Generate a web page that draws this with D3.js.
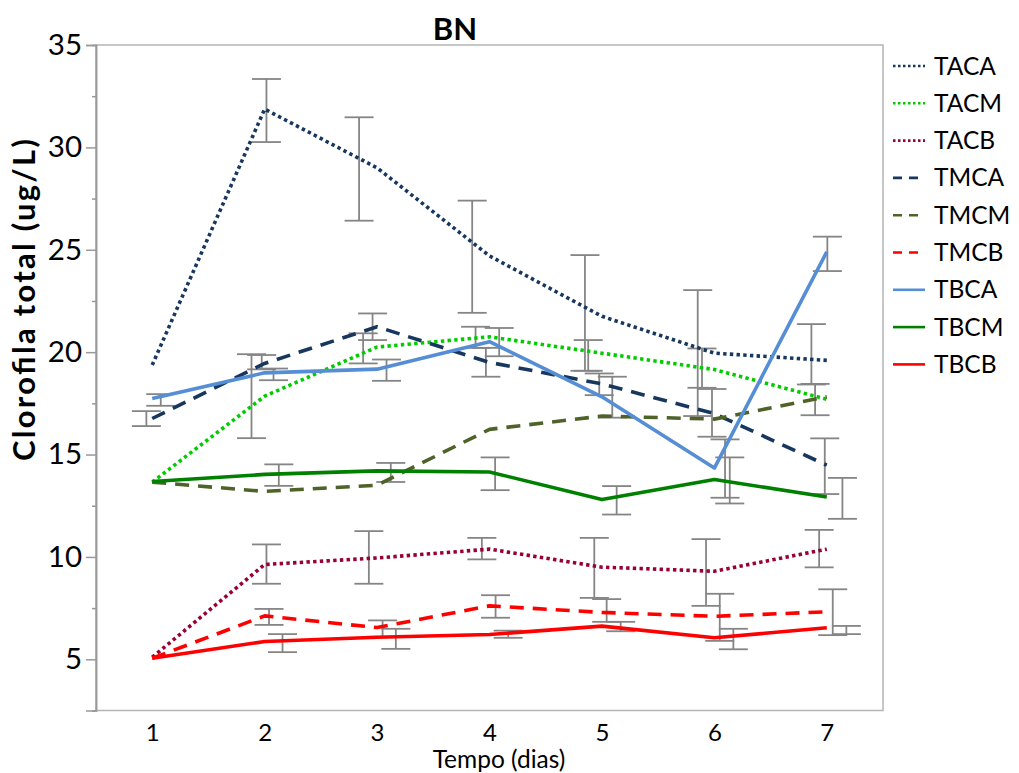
<!DOCTYPE html>
<html lang="en">
<head>
  <meta charset="UTF-8">
  <title>BN - Clorofila total</title>
  <script src="https://cdn.jsdelivr.net/npm/d3@7"></script>
  <style>
    body { margin: 0; background: #fff; }
    svg text { font-family: Lato, "Open Sans", sans-serif; fill: #000; }
  </style>
</head>
<body>
<svg width="1019" height="773"></svg>
<script>
  // days on the x axis
  var days = [1, 2, 3, 4, 5, 6, 7];
  var seriesNames = ["TACA", "TACM", "TACB", "TMCA", "TMCM", "TMCB", "TBCA", "TBCM", "TBCB"];

  // mean values per series (ug/L)
  var TACA = [19.37, 31.87, 29.0, 24.7, 21.75, 19.95, 19.6];
  var TACM = [13.65, 17.85, 20.25, 20.75, 19.95, 19.15, 17.7];
  var TACB = [5.1, 9.63, 9.95, 10.38, 9.5, 9.3, 10.38];
  var TMCA = [16.76, 19.45, 21.24, 19.5, 18.45, 17.0, 14.48];
  var TMCM = [13.65, 13.2, 13.5, 16.23, 16.88, 16.73, 17.82];
  var TMCB = [5.05, 7.12, 6.55, 7.61, 7.29, 7.1, 7.32];
  var TBCA = [17.74, 18.99, 19.17, 20.51, 17.82, 14.34, 24.9];
  var TBCM = [13.68, 14.03, 14.2, 14.15, 12.8, 13.78, 12.93];
  var TBCB = [5.05, 5.87, 6.08, 6.21, 6.62, 6.05, 6.54];

  // error bars: [x position (days), low, high]
  var errTACA = [[2.016, 30.26, 33.34], [2.84, 26.42, 31.47], [3.846, 21.92, 27.4], [4.849, 19.09, 24.74], [5.852, 16.88, 23.03], [6.863, 18.42, 21.37]];
  var errTACM = [[1.883, 15.8, 19.9], [2.876, 19.45, 20.92], [3.876, 20.21, 21.24], [4.878, 19.09, 20.59], [5.89, 18.26, 20.18], [6.896, 16.92, 18.45]];
  var errTACB = [[2.016, 8.69, 10.61], [2.927, 8.69, 11.26], [3.932, 9.88, 10.93], [4.932, 8.0, 10.93], [5.926, 7.61, 10.87], [6.932, 9.49, 11.32]];
  var errTMCA = [[0.948, 16.39, 17.12], [1.974, 19.16, 19.86], [2.96, 20.59, 21.89], [3.968, 18.8, 20.21], [4.976, 17.9, 18.96], [5.979, 15.87, 18.2], [6.982, 13.07, 15.79]];
  var errTMCB = [[2.039, 6.68, 7.46], [3.049, 6.1, 6.9], [4.054, 7.03, 8.13], [5.042, 6.83, 7.94], [6.048, 5.9, 8.2], [7.053, 6.18, 8.42]];
  var errTBCA = [[1.076, 17.38, 17.95], [2.079, 18.63, 19.2], [3.084, 18.6, 19.64], [4.086, 19.8, 21.18], [5.092, 16.8, 18.8], [6.095, 12.89, 15.74], [7.005, 23.96, 25.64]];
  var errTBCM = [[2.126, 13.47, 14.52], [3.122, 13.66, 14.59], [4.05, 13.26, 14.86], [5.131, 12.07, 13.46], [6.137, 12.61, 14.86], [7.139, 11.86, 13.86]];
  var errTBCB = [[2.159, 5.35, 6.23], [3.167, 5.51, 6.49], [4.166, 6.05, 6.4], [5.167, 6.37, 6.83], [6.169, 5.49, 6.49], [7.174, 6.23, 6.63]];

  var majorTicks = [5, 10, 15, 20, 25, 30, 35];
  var minorTicks = [2.5, 7.5, 12.5, 17.5, 22.5, 27.5, 32.5];

  var series = [
    { name: "TACA", values: TACA, err: errTACA, color: "#17375e", dash: "3.4,3.3" },
    { name: "TACM", values: TACM, err: errTACM, color: "#00cc00", dash: "3.4,3.3" },
    { name: "TACB", values: TACB, err: errTACB, color: "#990033", dash: "3.4,3.3" },
    { name: "TMCA", values: TMCA, err: errTMCA, color: "#17375e", dash: "14,9" },
    { name: "TMCM", values: TMCM, err: [], color: "#4f6228", dash: "14,9" },
    { name: "TMCB", values: TMCB, err: errTMCB, color: "#ff0000", dash: "14,9" },
    { name: "TBCA", values: TBCA, err: errTBCA, color: "#558ed5", dash: null },
    { name: "TBCM", values: TBCM, err: errTBCM, color: "#008000", dash: null },
    { name: "TBCB", values: TBCB, err: errTBCB, color: "#ff0000", dash: null }
  ];

  var margin = { top: 45, right: 136, bottom: 62.5, left: 96 };
  var width = 1019 - margin.left - margin.right;
  var height = 773 - margin.top - margin.bottom;

  var x = d3.scaleLinear().domain([0.5, 7.5]).range([0, width]);
  var y = d3.scaleLinear().domain([2.5, 35]).range([height, 0]);

  var svg = d3.select("svg").append("g")
    .attr("transform", "translate(" + margin.left + "," + margin.top + ")");

  // plot border
  svg.append("rect")
    .attr("x", 0).attr("y", 0)
    .attr("width", width).attr("height", height)
    .attr("fill", "none")
    .attr("stroke", "#b4b4b4")
    .attr("stroke-width", 1.5);

  // y axis: minor then major
  var yMinor = svg.append("g")
    .call(d3.axisLeft(y).tickValues(minorTicks).tickSize(4).tickFormat(""));
  var yAxis = svg.append("g")
    .call(d3.axisLeft(y).tickValues(majorTicks).tickSize(10).tickPadding(4));
  [yMinor, yAxis].forEach(function(g) {
    g.selectAll("path, line").attr("stroke", "#999").attr("stroke-width", 1.5);
  });
  yAxis.selectAll("text").style("font-size", "29.5px");

  // x axis labels only
  var xAxis = svg.append("g")
    .attr("transform", "translate(0," + height + ")")
    .call(d3.axisBottom(x).tickValues(days).tickFormat(d3.format("d")).tickSize(0).tickPadding(13));
  xAxis.select(".domain").remove();
  xAxis.selectAll("text").style("font-size", "24px");

  // error bars
  var capW = 14.5;
  series.forEach(function(s) {
    var eb = svg.append("g").attr("stroke", "#858585").attr("stroke-width", 1.8);
    s.err.forEach(function(e) {
      var cx = x(e[0]);
      eb.append("line").attr("x1", cx).attr("x2", cx).attr("y1", y(e[1])).attr("y2", y(e[2]));
      eb.append("line").attr("x1", cx - capW).attr("x2", cx + capW).attr("y1", y(e[1])).attr("y2", y(e[1]));
      eb.append("line").attr("x1", cx - capW).attr("x2", cx + capW).attr("y1", y(e[2])).attr("y2", y(e[2]));
    });
  });

  // lines
  var line = d3.line()
    .x(function(d, i) { return x(days[i]); })
    .y(function(d) { return y(d); });

  series.forEach(function(s) {
    svg.append("path")
      .datum(s.values)
      .attr("fill", "none")
      .attr("stroke", s.color)
      .attr("stroke-width", 3.6)
      .attr("stroke-linejoin", "round")
      .attr("stroke-dasharray", s.dash)
      .attr("d", line);
  });

  // title
  d3.select("svg").append("text")
    .attr("x", 455).attr("y", 40)
    .attr("text-anchor", "middle")
    .style("font-size", "31px")
    .style("font-weight", "bold")
    .text("BN");

  // axis titles
  d3.select("svg").append("text")
    .attr("transform", "translate(35,300) rotate(-90)")
    .attr("text-anchor", "middle")
    .attr("textLength", 322)
    .attr("lengthAdjust", "spacing")
    .style("font-size", "31px")
    .style("font-weight", "bold")
    .text("Clorofila total (ug/L)");

  d3.select("svg").append("text")
    .attr("x", 499).attr("y", 768)
    .attr("text-anchor", "middle")
    .style("font-size", "24.5px")
    .text("Tempo (dias)");

  // legend
  var legend = d3.select("svg").append("g").attr("transform", "translate(893,66)");
  series.forEach(function(s, i) {
    var row = legend.append("g").attr("transform", "translate(0," + (i * 37.3) + ")");
    row.append("line")
      .attr("x1", 0).attr("x2", 32)
      .attr("stroke", s.color)
      .attr("stroke-width", 2.6)
      .attr("stroke-dasharray", s.dash ? (s.dash.indexOf("14") === 0 ? "9,7" : "2.5,2.5") : null);
    row.append("text")
      .attr("x", 41).attr("y", 0)
      .attr("dy", "0.35em")
      .style("font-size", "24.5px")
      .text(s.name);
  });
</script>
</body>
</html>
